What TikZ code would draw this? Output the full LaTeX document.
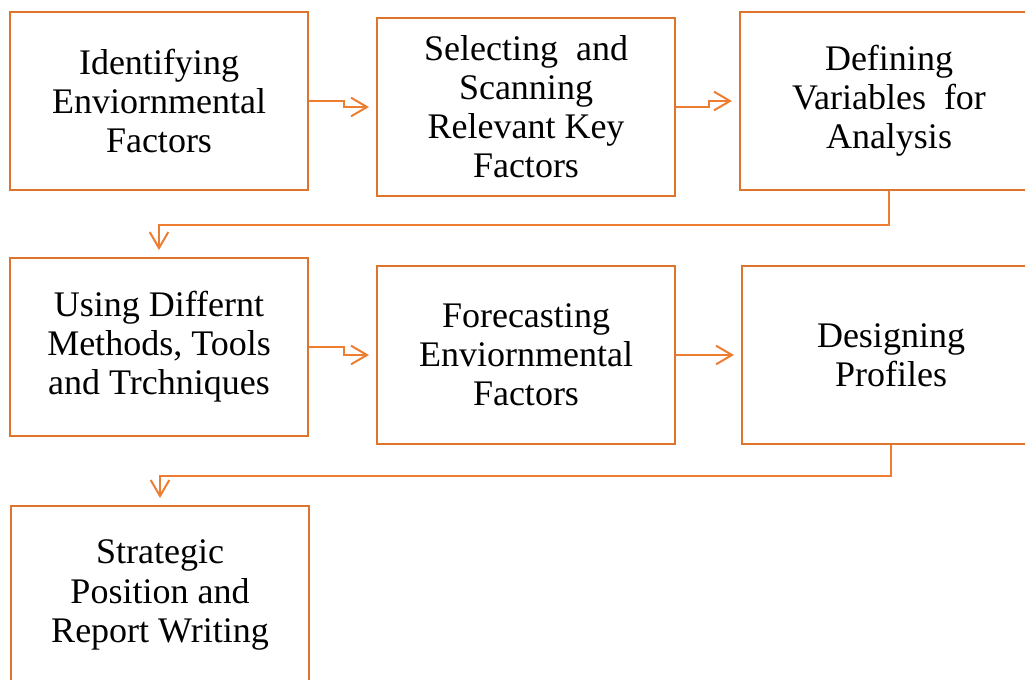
\documentclass[tikz,border=0pt]{standalone}
\usepackage{fontspec}
\setmainfont{Liberation Serif}
\usetikzlibrary{arrows.meta,calc}
\definecolor{boxline}{RGB}{222,117,45}
\definecolor{arrowline}{RGB}{237,125,49}
\tikzset{
  x=0.75pt, y=-0.75pt,
  stepbox/.style={draw=boxline, line width=2pt, minimum width=298*0.75pt,
    minimum height=178*0.75pt, inner sep=0pt, align=center,
    font=\fontsize{27}{29.3}\selectfont},
  conn/.style={draw=arrowline, line width=1.5pt,
    -{Straight Barb[length=12pt,width=14pt,line width=1.5pt]}, shorten >=5pt}
}
\begin{document}
\begin{tikzpicture}
\useasboundingbox (0,0) rectangle (1025,679);
\clip (0,0) rectangle (1025,679);
% first row
\node[stepbox] (b1) at (159,101) {Identifying\\Enviornmental\\Factors};
\node[stepbox] (b2) at (526,107) {Selecting\ \ and\\Scanning\\Relevant Key\\Factors};
\node[stepbox] (b3) at (889,101) {Defining\\Variables\ \ for\\Analysis};
% second row
\node[stepbox] (b4) at (159,347) {Using Differnt\\Methods, Tools\\and Trchniques};
\node[stepbox] (b5) at (526,355) {Forecasting\\Enviornmental\\Factors};
\node[stepbox] (b6) at (891,355) {Designing\\Profiles};
% third row
\node[stepbox] (b7) at (160,595) {Strategic\\Position and\\Report Writing};
% connectors
\draw[conn] (b1.east) -- ++(35,0) |- (b2.west);
\draw[conn] (b2.east) -- ++(33,0) |- (b3.west);
\draw[conn] (b3.south) -- ++(0,34) -| (b4.north);
\draw[conn] (b4.east) -- ++(35,0) |- (b5.west);
\draw[conn] (b5.east) -- (b6.west);
\draw[conn] (b6.south) -- ++(0,31) -| (b7.north);
\end{tikzpicture}
\end{document}
